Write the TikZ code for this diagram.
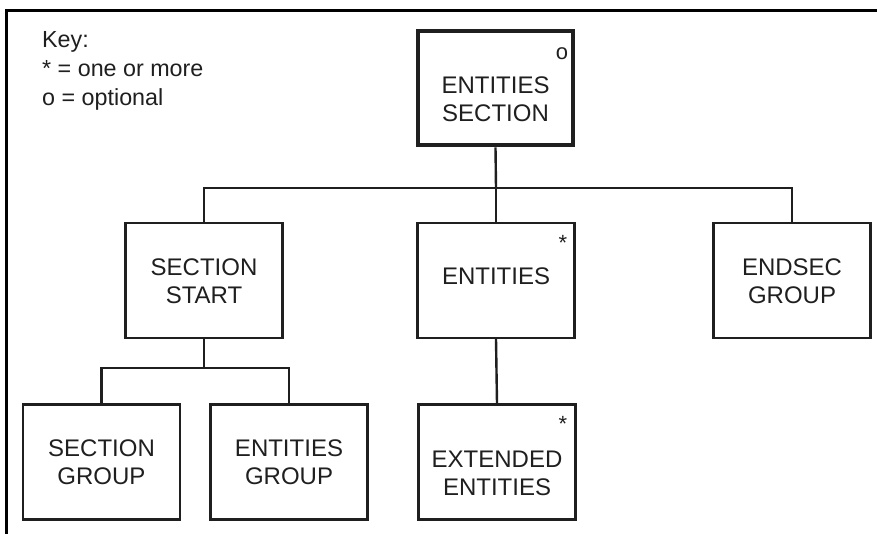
\documentclass[tikz,border=0pt]{standalone}
\usepackage{fontspec}
\setmainfont{Liberation Sans}
\begin{document}
\begin{tikzpicture}[x=1pt,y=-1pt,
  box/.style={draw=black!88, line width=2.4pt, rectangle, minimum width=157pt, minimum height=115pt, inner sep=0pt},
  topbox/.style={box, line width=4.8pt, minimum width=155pt, minimum height=114pt},
  txt/.style={font=\fontsize{24}{28}\selectfont, align=center, text=black!88, inner sep=0pt},
  marker/.style={font=\fontsize{22}{26}\selectfont, text=black!88, inner sep=0pt},
  keytxt/.style={font=\fontsize{23.3}{29}\selectfont, align=left, anchor=north west, text=black!88, inner sep=0pt},
  conn/.style={draw=black!88, line width=2.4pt}]
\useasboundingbox (0,0) rectangle (877,534);
\draw[line width=3pt] (6,534) -- (6,11) -- (877,11);

\node[keytxt] (key) at (42,31) {Key:\\* = one or more\\o = optional};

\node[topbox] (es) at (495.5,88) {};
\node[txt] (est) at (495.5,99) {ENTITIES\\SECTION};
\node[marker] (eso) at (562,54) {o};

\node[box] (ss) at (204,280.5) {};
\node[txt] (sst) at (204,281.5) {SECTION\\START};
\node[box] (en) at (496,280.5) {};
\node[txt] (ent) at (496,276) {ENTITIES};
\node[marker] (ens) at (563,243) {*};
\node[box] (eg) at (792,280.5) {};
\node[txt] (egt) at (792,281.5) {ENDSEC\\GROUP};

\node[box] (sg) at (101.5,462) {};
\node[txt] (sgt) at (101.5,462) {SECTION\\GROUP};
\node[box] (ng) at (289,462) {};
\node[txt] (ngt) at (289,462) {ENTITIES\\GROUP};
\node[box] (xe) at (497,462) {};
\node[txt] (xet) at (497,473.5) {EXTENDED\\ENTITIES};
\node[marker] (xes) at (563,424) {*};

\coordinate (h1) at (496,188);
\coordinate (h2) at (204,368);
\draw[conn] (es.south) -- (h1);
\draw[conn] (ss.north) |- (h1);
\draw[conn] (eg.north) |- (h1);
\draw[conn] (en.north) -- (en.north |- h1);
\draw[conn] (en.south) -- (xe.north);
\draw[conn] (ss.south) -- (h2);
\draw[conn] (sg.north) |- (h2);
\draw[conn] (ng.north) |- (h2);
\end{tikzpicture}
\end{document}
